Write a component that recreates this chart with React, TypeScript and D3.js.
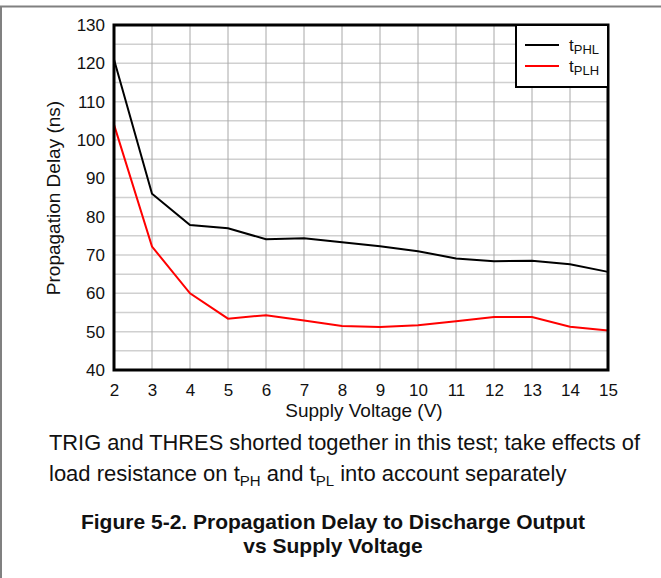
import React, { useRef, useEffect } from "react";
import * as d3 from "d3";

const voltages = [2, 3, 4, 5, 6, 7, 8, 9, 10, 11, 12, 13, 14, 15];
const tPHL = [121, 86, 77.8, 77.0, 74.1, 74.4, 73.3, 72.3, 71.0, 69.1, 68.4, 68.5, 67.6, 65.6];
const tPLH = [104, 72.2, 60.0, 53.4, 54.3, 52.9, 51.5, 51.2, 51.7, 52.7, 53.8, 53.8, 51.3, 50.3];
const yTicks = [40, 50, 60, 70, 80, 90, 100, 110, 120, 130];

const W = 661;
const H = 578;

export default function App() {
    const ref = useRef<SVGSVGElement | null>(null);

    useEffect(() => {
        if (!ref.current) return;
        const svg = d3.select(ref.current);
        svg.selectAll("*").remove();

        const margin = { top: 25, right: 53, bottom: 208, left: 114 };
        const font = "Arial, 'Liberation Sans', Helvetica, sans-serif";

        const x = d3.scaleLinear().domain([2, 15]).range([margin.left, W - margin.right]);
        const y = d3.scaleLinear().domain([40, 130]).range([H - margin.bottom, margin.top]);

        // outer frame
        svg.append("line").attr("x1", 0).attr("x2", W).attr("y1", 6.5).attr("y2", 6.5)
            .attr("stroke", "#808080").attr("stroke-width", 2);
        svg.append("line").attr("x1", 1).attr("x2", 1).attr("y1", 6).attr("y2", H)
            .attr("stroke", "#808080").attr("stroke-width", 2);

        // grid
        const g = svg.append("g");
        g.selectAll("line.h")
            .data(d3.range(45, 130, 5))
            .join("line")
            .attr("x1", x(2)).attr("x2", x(15))
            .attr("y1", d => y(d)).attr("y2", d => y(d))
            .attr("stroke", "#d0d0d0").attr("stroke-width", 1.5);
        g.selectAll("line.v")
            .data(voltages.slice(1, -1))
            .join("line")
            .attr("x1", d => x(d)).attr("x2", d => x(d))
            .attr("y1", y(40)).attr("y2", y(130))
            .attr("stroke", "#a8a8a8").attr("stroke-width", 1);

        // series
        const line = d3.line<number>()
            .x((d, i) => x(voltages[i]))
            .y(d => y(d));
        svg.append("path").datum(tPHL).attr("d", line)
            .attr("fill", "none").attr("stroke", "#000").attr("stroke-width", 2);
        svg.append("path").datum(tPLH).attr("d", line)
            .attr("fill", "none").attr("stroke", "#ff0000").attr("stroke-width", 2);

        // plot border
        svg.append("rect")
            .attr("x", x(2)).attr("y", y(130))
            .attr("width", x(15) - x(2)).attr("height", y(40) - y(130))
            .attr("fill", "none").attr("stroke", "#000").attr("stroke-width", 3);

        // axes
        const yAxis = svg.append("g")
            .attr("transform", `translate(${x(2)},0)`)
            .call(d3.axisLeft(y).tickValues(yTicks).tickSize(0).tickPadding(9));
        yAxis.select(".domain").remove();
        yAxis.selectAll("text").attr("font-size", 17).attr("font-family", font).attr("fill", "#111");

        const xAxis = svg.append("g")
            .attr("transform", `translate(0,${y(40)})`)
            .call(d3.axisBottom(x).tickValues(voltages).tickFormat(d3.format("d")).tickSize(0).tickPadding(14));
        xAxis.select(".domain").remove();
        xAxis.selectAll("text").attr("font-size", 17).attr("font-family", font).attr("fill", "#111");

        svg.append("text")
            .attr("x", 364).attr("y", 417)
            .attr("text-anchor", "middle")
            .attr("font-size", 19).attr("font-family", font).attr("fill", "#111")
            .text("Supply Voltage (V)");

        svg.append("text")
            .attr("transform", `translate(60,198) rotate(-90)`)
            .attr("text-anchor", "middle")
            .attr("font-size", 19).attr("font-family", font).attr("fill", "#111")
            .text("Propagation Delay (ns)");

        // legend
        const lg = svg.append("g");
        lg.append("rect")
            .attr("x", 516).attr("y", y(130))
            .attr("width", x(15) - 516).attr("height", 62)
            .attr("fill", "#fff").attr("stroke", "#000").attr("stroke-width", 2);
        const items = [
            { name: "PHL", color: "#000" },
            { name: "PLH", color: "#ff0000" }
        ];
        items.forEach((it, i) => {
            const ly = 45 + i * 21;
            lg.append("line").attr("x1", 525).attr("x2", 559).attr("y1", ly).attr("y2", ly)
                .attr("stroke", it.color).attr("stroke-width", 2);
            const t = lg.append("text").attr("x", 569).attr("y", ly + 6)
                .attr("font-size", 17).attr("font-family", font).attr("fill", "#111");
            t.append("tspan").text("t");
            t.append("tspan").attr("dy", 3).attr("font-size", 13).text(it.name);
        });

        // caption
        const cap = svg.append("g").attr("font-family", font).attr("fill", "#111");
        cap.append("text").attr("x", 49).attr("y", 450).attr("font-size", 22)
            .attr("textLength", 591).attr("lengthAdjust", "spacingAndGlyphs")
            .text("TRIG and THRES shorted together in this test; take effects of");
        const l2 = cap.append("text").attr("x", 49).attr("y", 481).attr("font-size", 22);
        l2.append("tspan").text("load resistance on t");
        l2.append("tspan").attr("dy", 5).attr("font-size", 15).text("PH");
        l2.append("tspan").attr("dy", -5).text(" and t");
        l2.append("tspan").attr("dy", 5).attr("font-size", 15).text("PL");
        l2.append("tspan").attr("dy", -5).text(" into account separately");

        cap.append("text").attr("x", 333).attr("y", 529).attr("text-anchor", "middle")
            .attr("font-size", 21).attr("font-weight", "bold")
            .text("Figure 5-2. Propagation Delay to Discharge Output");
        cap.append("text").attr("x", 333).attr("y", 553).attr("text-anchor", "middle")
            .attr("font-size", 21).attr("font-weight", "bold")
            .text("vs Supply Voltage");
    }, []);

    return (
        <svg
            ref={ref}
            width={W}
            height={H}
            style={{ position: "absolute", left: 0, top: 0, background: "#fff" }}
        />
    );
}
